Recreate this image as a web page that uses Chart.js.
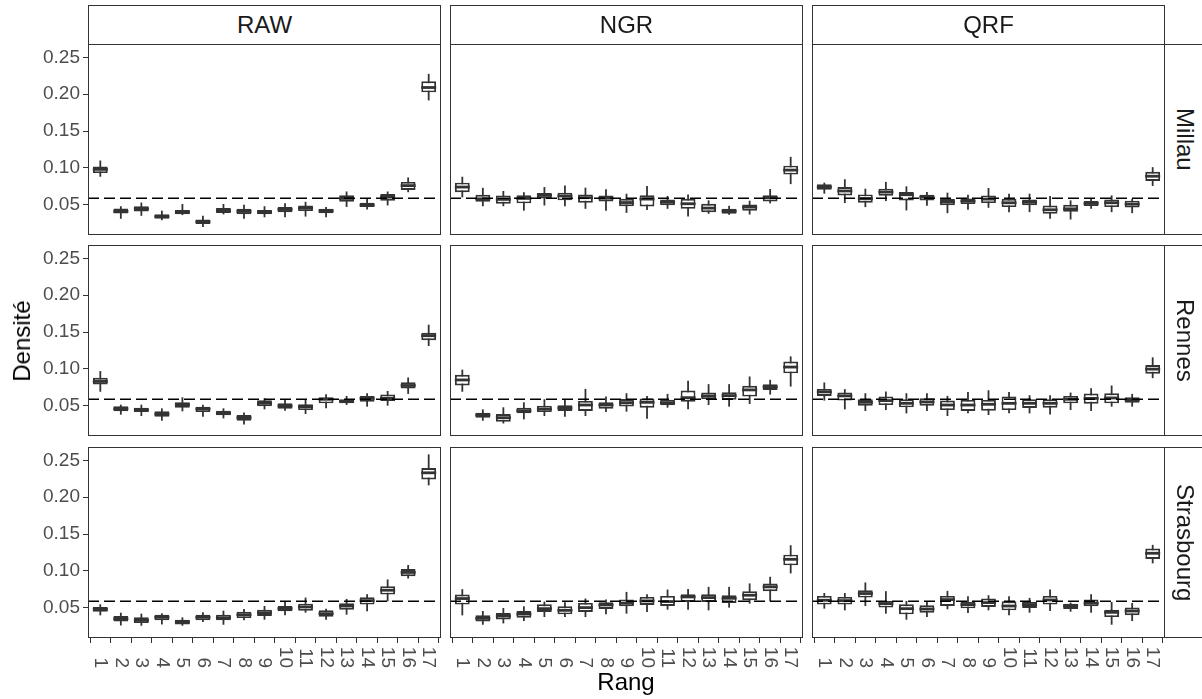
<!DOCTYPE html>
<html>
<head>
<meta charset="utf-8">
<script src="https://cdn.jsdelivr.net/npm/chart.js@4.4.0/dist/chart.umd.min.js"></script>
<style>
  body { margin:0; width:1202px; height:699px; overflow:hidden; background:#fff; position:relative; font-family:"Liberation Sans", Arial, sans-serif; }
  canvas { position:absolute; }
  .strip { position:absolute; box-sizing:border-box; border:1px solid #333; background:#fff; color:#1a1a1a; font-size:24px; display:flex; align-items:center; justify-content:center; }
  .strip.right { writing-mode:vertical-rl; }
  .title { position:absolute; font-size:24px; color:#000; white-space:nowrap; }
</style>
</head>
<body>
<script>
const rangs = [1, 2, 3, 4, 5, 6, 7, 8, 9, 10, 11, 12, 13, 14, 15, 16, 17];
const yTicks = [0.05, 0.10, 0.15, 0.20, 0.25];
const yTickLabels = ['0.05', '0.10', '0.15', '0.20', '0.25'];
const methodes = ['RAW', 'NGR', 'QRF'];
const villes = ['Millau', 'Rennes', 'Strasbourg'];
const attendu = 1 / rangs.length;

// one box per rang : [min, q1, mediane, q3, max]
const rawMillau = [
  [0.088, 0.093, 0.098, 0.102, 0.110], [0.031, 0.038, 0.041, 0.045, 0.048], [0.035, 0.041, 0.0445, 0.048, 0.053],
  [0.029, 0.031, 0.034, 0.037, 0.042], [0.036, 0.037, 0.040, 0.043, 0.051], [0.020, 0.024, 0.027, 0.030, 0.035],
  [0.037, 0.039, 0.042, 0.0455, 0.051], [0.031, 0.0373, 0.041, 0.0445, 0.050], [0.033, 0.037, 0.040, 0.043, 0.048],
  [0.033, 0.040, 0.0436, 0.0468, 0.052], [0.034, 0.0414, 0.0455, 0.049, 0.054], [0.033, 0.0386, 0.0418, 0.0445, 0.047],
  [0.047, 0.054, 0.0586, 0.063, 0.068], [0.0436, 0.0468, 0.0495, 0.0527, 0.058], [0.0491, 0.0555, 0.0605, 0.0646, 0.068],
  [0.067, 0.070, 0.076, 0.081, 0.087], [0.1915, 0.2025, 0.209, 0.2175, 0.2275]
];
const ngrMillau = [
  [0.060, 0.067, 0.074, 0.080, 0.088], [0.048, 0.054, 0.058, 0.0636, 0.073], [0.048, 0.0514, 0.0573, 0.0627, 0.0687],
  [0.042, 0.052, 0.0586, 0.063, 0.067], [0.049, 0.0586, 0.0627, 0.066, 0.074], [0.048, 0.056, 0.062, 0.0664, 0.076],
  [0.0445, 0.0527, 0.0596, 0.064, 0.0732], [0.042, 0.0545, 0.059, 0.0627, 0.071], [0.039, 0.048, 0.053, 0.058, 0.065],
  [0.043, 0.0477, 0.0577, 0.063, 0.0755], [0.0445, 0.0495, 0.0536, 0.057, 0.062], [0.034, 0.0445, 0.0514, 0.058, 0.064],
  [0.0377, 0.040, 0.0455, 0.0514, 0.056], [0.0364, 0.0377, 0.0414, 0.0445, 0.0486], [0.0368, 0.0418, 0.0468, 0.0505, 0.0555],
  [0.0518, 0.0545, 0.0596, 0.063, 0.0714], [0.078, 0.091, 0.097, 0.103, 0.115]
];
const qrfMillau = [
  [0.065, 0.0705, 0.074, 0.0778, 0.080], [0.0523, 0.0627, 0.0687, 0.0741, 0.0846], [0.0468, 0.0527, 0.0582, 0.064, 0.0718],
  [0.055, 0.0623, 0.0673, 0.0718, 0.081], [0.0423, 0.0559, 0.0636, 0.0673, 0.075], [0.0486, 0.0559, 0.0605, 0.0636, 0.0673],
  [0.0386, 0.0495, 0.054, 0.0577, 0.0664], [0.0432, 0.051, 0.055, 0.0586, 0.0636], [0.0459, 0.0523, 0.0577, 0.0627, 0.0727],
  [0.040, 0.0468, 0.0527, 0.058, 0.065], [0.040, 0.0495, 0.0536, 0.057, 0.065], [0.0309, 0.0377, 0.0432, 0.049, 0.0618],
  [0.030, 0.0405, 0.0445, 0.050, 0.056], [0.0445, 0.0482, 0.0518, 0.055, 0.058], [0.040, 0.0468, 0.0527, 0.057, 0.0627],
  [0.0386, 0.0464, 0.0509, 0.0555, 0.058], [0.0755, 0.0823, 0.0887, 0.0946, 0.101]
];
const rawRennes = [
  [0.069, 0.079, 0.083, 0.088, 0.097], [0.0379, 0.0424, 0.046, 0.0492, 0.0515], [0.0361, 0.0415, 0.0442, 0.0474, 0.0515],
  [0.0297, 0.0351, 0.0388, 0.0424, 0.0465], [0.0424, 0.0474, 0.0515, 0.0547, 0.0615], [0.0351, 0.0415, 0.0456, 0.0488, 0.0515],
  [0.0329, 0.037, 0.040, 0.0433, 0.0465], [0.0247, 0.0297, 0.0338, 0.0374, 0.041], [0.0451, 0.0492, 0.0533, 0.0574, 0.0602],
  [0.0433, 0.0461, 0.0497, 0.0533, 0.0579], [0.0388, 0.0442, 0.0488, 0.052, 0.0588], [0.0465, 0.0533, 0.0588, 0.0615, 0.0656],
  [0.0511, 0.0533, 0.056, 0.0588, 0.0633], [0.0488, 0.0556, 0.060, 0.0633, 0.067], [0.0501, 0.0565, 0.060, 0.0652, 0.070],
  [0.0661, 0.0734, 0.0775, 0.082, 0.0884], [0.131, 0.139, 0.145, 0.149, 0.160]
];
const ngrRennes = [
  [0.069, 0.0775, 0.085, 0.092, 0.099], [0.0297, 0.0338, 0.0374, 0.0406, 0.0451], [0.026, 0.0283, 0.0338, 0.0388, 0.0479],
  [0.0315, 0.0397, 0.0433, 0.0474, 0.0547], [0.0361, 0.0415, 0.0456, 0.0501, 0.0588], [0.0351, 0.0429, 0.047, 0.0506, 0.0592],
  [0.0361, 0.0429, 0.051, 0.0565, 0.0729], [0.0415, 0.0461, 0.051, 0.0547, 0.0624], [0.042, 0.049, 0.0542, 0.0592, 0.067],
  [0.0324, 0.0474, 0.0547, 0.0597, 0.0633], [0.0474, 0.0506, 0.0542, 0.0583, 0.0661], [0.0452, 0.0556, 0.061, 0.0706, 0.0838],
  [0.051, 0.0588, 0.0633, 0.0679, 0.0793], [0.0488, 0.0583, 0.0638, 0.0684, 0.0793], [0.0524, 0.0624, 0.0715, 0.077, 0.0897],
  [0.0652, 0.0715, 0.0756, 0.0793, 0.0852], [0.076, 0.094, 0.1025, 0.110, 0.117]
];
const qrfRennes = [
  [0.057, 0.0634, 0.0688, 0.0729, 0.0816], [0.0451, 0.057, 0.0634, 0.0679, 0.0725], [0.0429, 0.0501, 0.0547, 0.0588, 0.067],
  [0.0442, 0.051, 0.057, 0.0624, 0.0693], [0.0397, 0.0479, 0.0533, 0.0588, 0.067], [0.0429, 0.0501, 0.0552, 0.0602, 0.067],
  [0.0361, 0.0442, 0.051, 0.057, 0.0634], [0.0397, 0.0429, 0.051, 0.0579, 0.0688], [0.0374, 0.0433, 0.052, 0.0579, 0.071],
  [0.0397, 0.0442, 0.0533, 0.0624, 0.0688], [0.0397, 0.047, 0.0533, 0.0588, 0.0643], [0.0383, 0.0474, 0.0533, 0.0588, 0.0643],
  [0.0442, 0.0533, 0.0588, 0.0634, 0.0679], [0.0429, 0.0529, 0.060, 0.0665, 0.0738], [0.0488, 0.0533, 0.0606, 0.067, 0.0775],
  [0.0488, 0.0542, 0.0579, 0.0615, 0.0661], [0.0875, 0.0934, 0.0997, 0.1052, 0.1157]
];
const rawStrasbourg = [
  [0.0397, 0.0447, 0.0479, 0.0511, 0.0547], [0.026, 0.0315, 0.0351, 0.0388, 0.0433], [0.0256, 0.0292, 0.0329, 0.037, 0.042],
  [0.0274, 0.0329, 0.037, 0.0406, 0.0424], [0.0256, 0.0274, 0.0306, 0.0338, 0.037], [0.0306, 0.0329, 0.037, 0.0406, 0.0438],
  [0.027, 0.0329, 0.0365, 0.0406, 0.0461], [0.0329, 0.036, 0.0406, 0.0447, 0.0483], [0.0338, 0.0388, 0.0433, 0.0474, 0.0524],
  [0.0397, 0.0452, 0.0488, 0.0524, 0.0584], [0.0433, 0.0461, 0.0511, 0.0556, 0.0638], [0.0338, 0.0379, 0.042, 0.0465, 0.0488],
  [0.0406, 0.0474, 0.0524, 0.0561, 0.062], [0.0452, 0.0543, 0.0597, 0.0643, 0.0684], [0.0588, 0.0679, 0.0738, 0.0793, 0.0884],
  [0.0897, 0.0929, 0.0979, 0.1025, 0.108], [0.216, 0.224, 0.233, 0.2395, 0.258]
];
const ngrStrasbourg = [
  [0.0397, 0.0543, 0.0625, 0.0679, 0.0752], [0.027, 0.0315, 0.0356, 0.0397, 0.0456], [0.0288, 0.0342, 0.0388, 0.0429, 0.0497],
  [0.032, 0.0365, 0.0415, 0.0456, 0.052], [0.0374, 0.0443, 0.0488, 0.0547, 0.0584], [0.0374, 0.0411, 0.0465, 0.052, 0.0575],
  [0.0374, 0.0443, 0.0502, 0.0565, 0.0625], [0.0411, 0.0483, 0.0538, 0.0575, 0.0611], [0.042, 0.052, 0.0561, 0.0611, 0.0715],
  [0.0443, 0.0538, 0.0593, 0.0647, 0.0684], [0.0474, 0.0524, 0.0584, 0.0661, 0.0747], [0.0474, 0.0579, 0.0647, 0.0684, 0.0756],
  [0.0465, 0.0579, 0.0638, 0.0684, 0.0784], [0.0502, 0.0565, 0.0629, 0.067, 0.0784], [0.0556, 0.0602, 0.067, 0.0725, 0.083],
  [0.0588, 0.0725, 0.0784, 0.0829, 0.092], [0.0966, 0.1075, 0.1157, 0.122, 0.1348]
];
const qrfStrasbourg = [
  [0.0488, 0.0543, 0.0602, 0.0661, 0.070], [0.0465, 0.0543, 0.0597, 0.0647, 0.070], [0.0524, 0.0638, 0.0693, 0.0738, 0.0843],
  [0.042, 0.0502, 0.0556, 0.0593, 0.0725], [0.0338, 0.0411, 0.0488, 0.0547, 0.0593], [0.0374, 0.0433, 0.0483, 0.0534, 0.0593],
  [0.0479, 0.0524, 0.0611, 0.0661, 0.0729], [0.0429, 0.0493, 0.0543, 0.0579, 0.0656], [0.0465, 0.0511, 0.057, 0.0625, 0.067],
  [0.0397, 0.0465, 0.0524, 0.0588, 0.0656], [0.0433, 0.0497, 0.0543, 0.0579, 0.0634], [0.0456, 0.0543, 0.0606, 0.0661, 0.0747],
  [0.0447, 0.0484, 0.0524, 0.0556, 0.057], [0.0433, 0.052, 0.0561, 0.0611, 0.0684], [0.027, 0.0374, 0.0438, 0.0474, 0.0579],
  [0.032, 0.040, 0.0456, 0.0502, 0.0565], [0.1102, 0.1161, 0.1239, 0.1302, 0.1353]
];

const grille = [
  [rawMillau, ngrMillau, qrfMillau],
  [rawRennes, ngrRennes, qrfRennes],
  [rawStrasbourg, ngrStrasbourg, qrfStrasbourg]
];

// panel layout (px)
const colLeft = [88, 450, 812];
const rowTop = [44, 245, 447];
const panelW = 353, panelH = 191;
const yAxisW = 68, xAxisH = 40;
const fontFam = '"Liberation Sans", Arial, sans-serif';
const dark = '#333333';

const framePlugin = {
  id: 'frame',
  afterDraw(chart) {
    const {ctx, chartArea: a} = chart;
    ctx.save();
    ctx.strokeStyle = dark;
    ctx.lineWidth = 1;
    ctx.strokeRect(Math.round(a.left) + 0.5, Math.round(a.top) + 0.5, Math.round(a.right - a.left) - 1, Math.round(a.bottom - a.top) - 1);
    ctx.restore();
  }
};

// x labels turned clockwise (read top to bottom)
const xLabelsPlugin = {
  id: 'xlabels',
  afterDraw(chart) {
    if (!chart.options.plugins.xlabels.show) return;
    const {ctx, chartArea: a} = chart;
    const sx = chart.scales.x;
    ctx.save();
    ctx.fillStyle = '#4d4d4d';
    ctx.font = '19px ' + fontFam;
    ctx.textAlign = 'right';
    ctx.textBaseline = 'middle';
    rangs.forEach(r => {
      ctx.save();
      ctx.translate(sx.getPixelForValue(r), a.bottom + 30);
      ctx.rotate(Math.PI / 2);
      ctx.fillText(String(r), 0, 0);
      ctx.restore();
    });
    ctx.restore();
  }
};

function makePanel(row, col) {
  const boxes = grille[row][col];
  const showY = col === 0, showX = row === 2;
  const cv = document.createElement('canvas');
  const left = colLeft[col] - (showY ? yAxisW : 0);
  const w = panelW + (showY ? yAxisW : 0);
  const h = panelH + (showX ? xAxisH : 0);
  cv.width = w; cv.height = h;
  cv.style.left = left + 'px';
  cv.style.top = rowTop[row] + 'px';
  document.body.appendChild(cv);

  new Chart(cv, {
    type: 'bar',
    data: {
      datasets: [
        {
          type: 'line',
          data: [{x: 0.4, y: attendu}, {x: 17.6, y: attendu}],
          borderColor: '#000',
          borderWidth: 1.6,
          borderDash: [11, 5],
          pointRadius: 0
        },
        {
          type: 'scatter',
          data: boxes.map((b, i) => ({x: rangs[i], y: b[2]})),
          pointStyle: 'line',
          radius: 7.5,
          borderWidth: 2.8,
          borderColor: dark
        },
        {
          data: boxes.map((b, i) => ({x: rangs[i], y: [b[1], b[3]]})),
          grouped: false,
          maxBarThickness: 16,
          backgroundColor: '#ffffff',
          borderColor: dark,
          borderWidth: 1.9,
          borderSkipped: false
        },
        {
          data: boxes.map((b, i) => ({x: rangs[i], y: [b[0], b[4]]})),
          grouped: false,
          maxBarThickness: 1.8,
          backgroundColor: dark,
          borderWidth: 0
        }
      ]
    },
    options: {
      responsive: false,
      animation: false,
      events: [],
      layout: { padding: 0, autoPadding: false },
      scales: {
        x: {
          type: 'linear',
          display: showX,
          min: 0.4,
          max: 17.6,
          offset: false,
          afterBuildTicks: s => { s.ticks = rangs.map(v => ({value: v})); },
          afterFit: s => {
            if (showX) s.height = xAxisH;
            s.paddingLeft = 0; s.paddingRight = 0;
          },
          grid: { drawOnChartArea: false, drawTicks: true, tickLength: 5, color: dark },
          border: { display: false },
          ticks: { display: false }
        },
        y: {
          display: showY,
          min: 0.009,
          max: 0.268,
          afterBuildTicks: s => { s.ticks = yTicks.map(v => ({value: v})); },
          afterFit: s => {
            if (showY) s.width = yAxisW;
            s.paddingTop = 0; s.paddingBottom = 0;
          },
          grid: { drawOnChartArea: false, drawTicks: true, tickLength: 5, color: dark },
          border: { display: false },
          ticks: {
            color: '#4d4d4d',
            padding: 3,
            font: { family: fontFam, size: 19 },
            callback: (v) => yTickLabels[yTicks.indexOf(v)]
          }
        }
      },
      plugins: {
        legend: { display: false },
        tooltip: { enabled: false },
        xlabels: { show: showX }
      }
    },
    plugins: [framePlugin, xLabelsPlugin]
  });
}

for (let r = 0; r < 3; r++) {
  for (let c = 0; c < 3; c++) makePanel(r, c);
}

// strips
methodes.forEach((m, c) => {
  const d = document.createElement('div');
  d.className = 'strip';
  d.style.left = colLeft[c] + 'px';
  d.style.top = '5px';
  d.style.width = panelW + 'px';
  d.style.height = (rowTop[0] - 5 + 1) + 'px';
  d.textContent = m;
  document.body.appendChild(d);
});
villes.forEach((v, r) => {
  const d = document.createElement('div');
  d.className = 'strip right';
  d.style.left = (colLeft[2] + panelW - 1) + 'px';
  d.style.top = rowTop[r] + 'px';
  d.style.width = '42px';
  d.style.height = panelH + 'px';
  d.textContent = v;
  document.body.appendChild(d);
});

// axis titles
const yt = document.createElement('div');
yt.className = 'title';
yt.textContent = 'Densité';
yt.style.left = '22px';
yt.style.top = '341px';
yt.style.transform = 'translate(-50%, -50%) rotate(-90deg)';
document.body.appendChild(yt);

const xt = document.createElement('div');
xt.className = 'title';
xt.textContent = 'Rang';
xt.style.left = '626px';
xt.style.top = '682px';
xt.style.transform = 'translate(-50%, -50%)';
document.body.appendChild(xt);
</script>
</body>
</html>
